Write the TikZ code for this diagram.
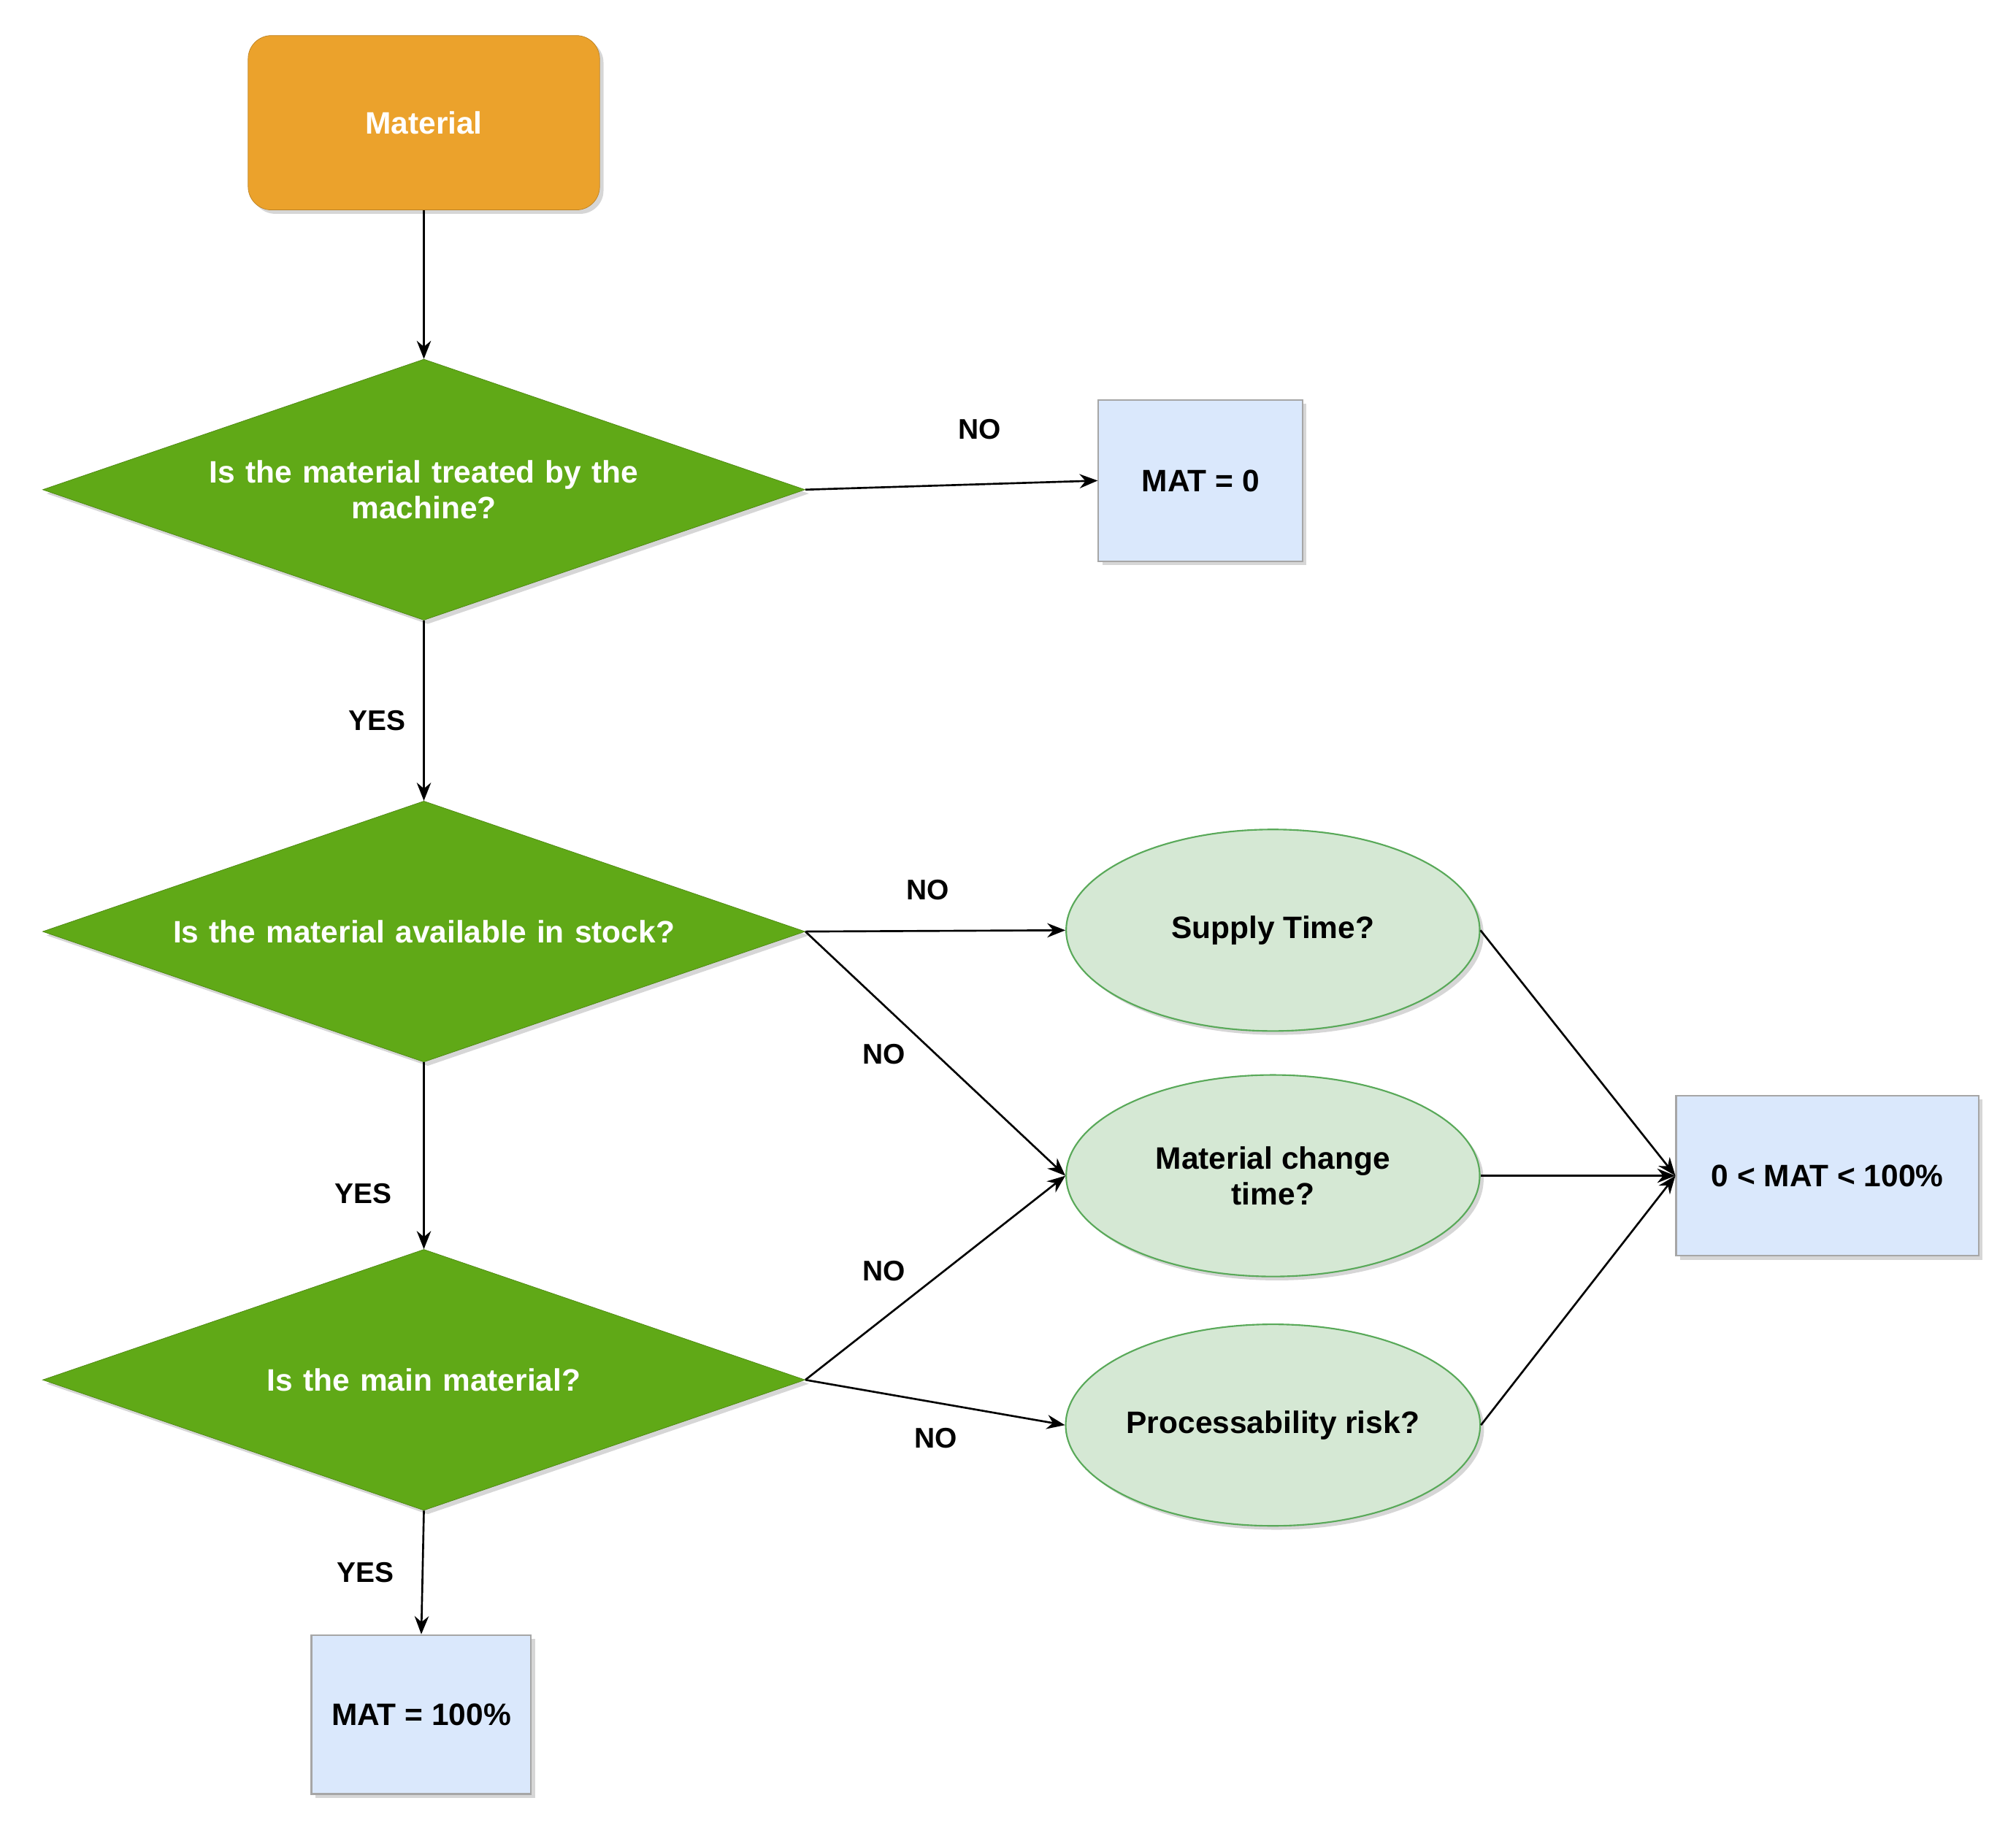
\documentclass[tikz,border=0pt]{standalone}
\usepackage{fontspec}
\setmainfont{Liberation Sans}
\usetikzlibrary{shapes.geometric,shadows,arrows.meta}
\definecolor{orng}{HTML}{EBA22C}
\definecolor{dgreen}{HTML}{60A917}
\definecolor{lblue}{HTML}{DAE8FC}
\definecolor{lgreen}{HTML}{D5E8D4}
\begin{document}
\begin{tikzpicture}[x=1pt,y=-1pt,
  every node/.style={font=\fontsize{24}{28}\selectfont\bfseries},
  shd/.style={drop shadow={shadow xshift=3pt,shadow yshift=-3pt,fill=black!40,opacity=0.4}},
  dec/.style={diamond,fill=dgreen,draw=dgreen!80!black,text=white,minimum width=590pt,minimum height=202pt,inner sep=0pt,aspect=2.92,align=center,text width=440pt,shd},
  box/.style={rectangle,fill=lblue,draw=gray!70,line width=1.2pt,align=center,shd},
  ell/.style={ellipse,fill=lgreen,draw=lgreen!60!green!70!black,line width=1.2pt,minimum width=320pt,minimum height=156pt,inner sep=0pt,align=center,shd},
  arr/.style={-{Stealth[length=14pt,width=11pt]},line width=1.5pt},
  lbl/.style={font=\fontsize{22}{26}\selectfont\bfseries}]
\useasboundingbox (0,0) rectangle (1560,1412);
\node[rectangle,rounded corners=18pt,fill=orng,draw=orng!80!black,text=white,minimum width=272pt,minimum height=135pt,shd] (mat) at (328,95) {Material};
\node[dec] (d1) at (328,379) {Is the material treated by the\\machine?};
\node[dec] (d2) at (328,721) {Is the material available in stock?};
\node[dec] (d3) at (328,1068) {Is the main material?};
\node[box,minimum width=158pt,minimum height=125pt] (m0) at (929,372) {MAT = 0};
\node[box,minimum width=170pt,minimum height=123pt] (m100) at (326,1327) {MAT = 100\%};
\node[box,minimum width=234pt,minimum height=124pt] (mp) at (1414,910) {0 < MAT < 100\%};
\node[ell] (e1) at (985,720) {Supply Time?};
\node[ell] (e2) at (985,910) {Material change\\time?};
\node[ell] (e3) at (985,1103) {Processability risk?};
\draw[arr] (mat) -- (d1);
\draw[arr] (d1.east) -- (m0.west);
\node[lbl] (n1) at (758,332) {NO};
\draw[arr] (d1.south) -- (d2.north);
\node[lbl] (y1) at (292,558) {YES};
\draw[arr] (d2.east) -- (e1.west);
\node[lbl] (n2) at (718,689) {NO};
\draw[arr] (d2.east) -- (e2.west);
\node[lbl] (n3) at (684,816) {NO};
\draw[arr] (d2.south) -- (d3.north);
\node[lbl] (y2) at (281,924) {YES};
\draw[arr] (d3.east) -- (e2.west);
\node[lbl] (n4) at (684,984) {NO};
\draw[arr] (d3.east) -- (e3.west);
\node[lbl] (n5) at (724,1113) {NO};
\draw[arr] (d3.south) -- (m100.north);
\node[lbl] (y3) at (283,1217) {YES};
\draw[arr] (e1.east) -- (mp.west);
\draw[arr] (e2.east) -- (mp.west);
\draw[arr] (e3.east) -- (mp.west);
\end{tikzpicture}
\end{document}
